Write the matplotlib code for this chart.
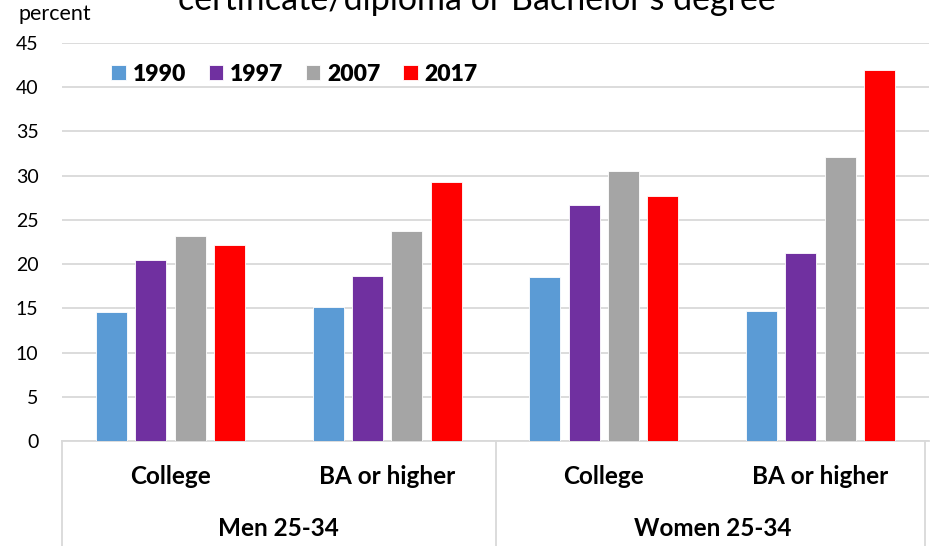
import numpy as np
import matplotlib
matplotlib.use("Agg")
import matplotlib.pyplot as plt
import matplotlib.transforms as mtransforms

plt.rcParams["font.family"] = ["Lato", "DejaVu Sans"]

# veriler
years = ["1990", "1997", "2007", "2017"]
kategoriler = ["College", "BA or higher", "College", "BA or higher"]
gruplar = ["Men 25-34", "Women 25-34"]
y1990 = [14.6, 15.2, 18.5, 14.7]
y1997 = [20.5, 18.6, 26.7, 21.2]
y2007 = [23.2, 23.8, 30.5, 32.1]
y2017 = [22.2, 29.3, 27.7, 41.9]
renkler = ["#5B9BD5", "#7030A0", "#A5A5A5", "#FF0000"]

seriler = [y1990, y1997, y2007, y2017]

fig = plt.figure(figsize=(9.32, 5.46), dpi=100)
ax = fig.add_axes([62 / 932, 105 / 546, 867 / 932, 398 / 546])

x = np.arange(len(kategoriler))
genislik = 0.143
adim = 0.1815
for i, (seri, renk, yil) in enumerate(zip(seriler, renkler, years)):
    ax.bar(x + (i - 1.5) * adim, seri, width=genislik, color=renk,
           edgecolor="white", linewidth=0.6, label=yil, zorder=3)

ax.set_xlim(-0.5, 3.5)
ax.set_ylim(0, 45)
ax.set_yticks(range(0, 50, 5))
ax.tick_params(axis="y", length=0, pad=17, labelsize=14)
ax.set_xticks([])
ax.grid(axis="y", color="#d9d9d9", linewidth=1.3, zorder=0)
for s in ["left", "right", "top"]:
    ax.spines[s].set_visible(False)
ax.spines["bottom"].set_color("#d9d9d9")
ax.spines["bottom"].set_linewidth(1.3)

# alt kategori etiketleri
tr = mtransforms.blended_transform_factory(ax.transData, ax.transAxes)
for xi, k in zip(x, kategoriler):
    ax.text(xi, -0.088, k, transform=tr, ha="center", va="center",
            fontsize=17.5, fontweight="bold")
for gi, g in enumerate(gruplar):
    ax.text(gi * 2 + 0.5, -0.219, g, transform=tr, ha="center", va="center",
            fontsize=17.5, fontweight="bold")
for xv in [-0.5, 1.5, 3.48]:
    ax.plot([xv, xv], [0, -0.3], transform=tr, color="#d9d9d9",
            linewidth=1.3, clip_on=False)

leg = ax.legend(loc="center left", bbox_to_anchor=(0.057, 0.922), ncol=4,
                frameon=False, borderpad=0, borderaxespad=0,
                handlelength=0.62, handleheight=0.62,
                handletextpad=0.3, columnspacing=1.0,
                prop={"size": 16.5, "weight": "heavy"})

fig.text(18 / 932, 1 - 14 / 546, "percent", ha="left", va="center", fontsize=15.5)
fig.text(477 / 932, 1 - 9.5 / 546, "certificate/diploma or Bachelor's degree",
         ha="center", va="baseline", fontsize=24.5)

plt.savefig("out.png", dpi=100)
